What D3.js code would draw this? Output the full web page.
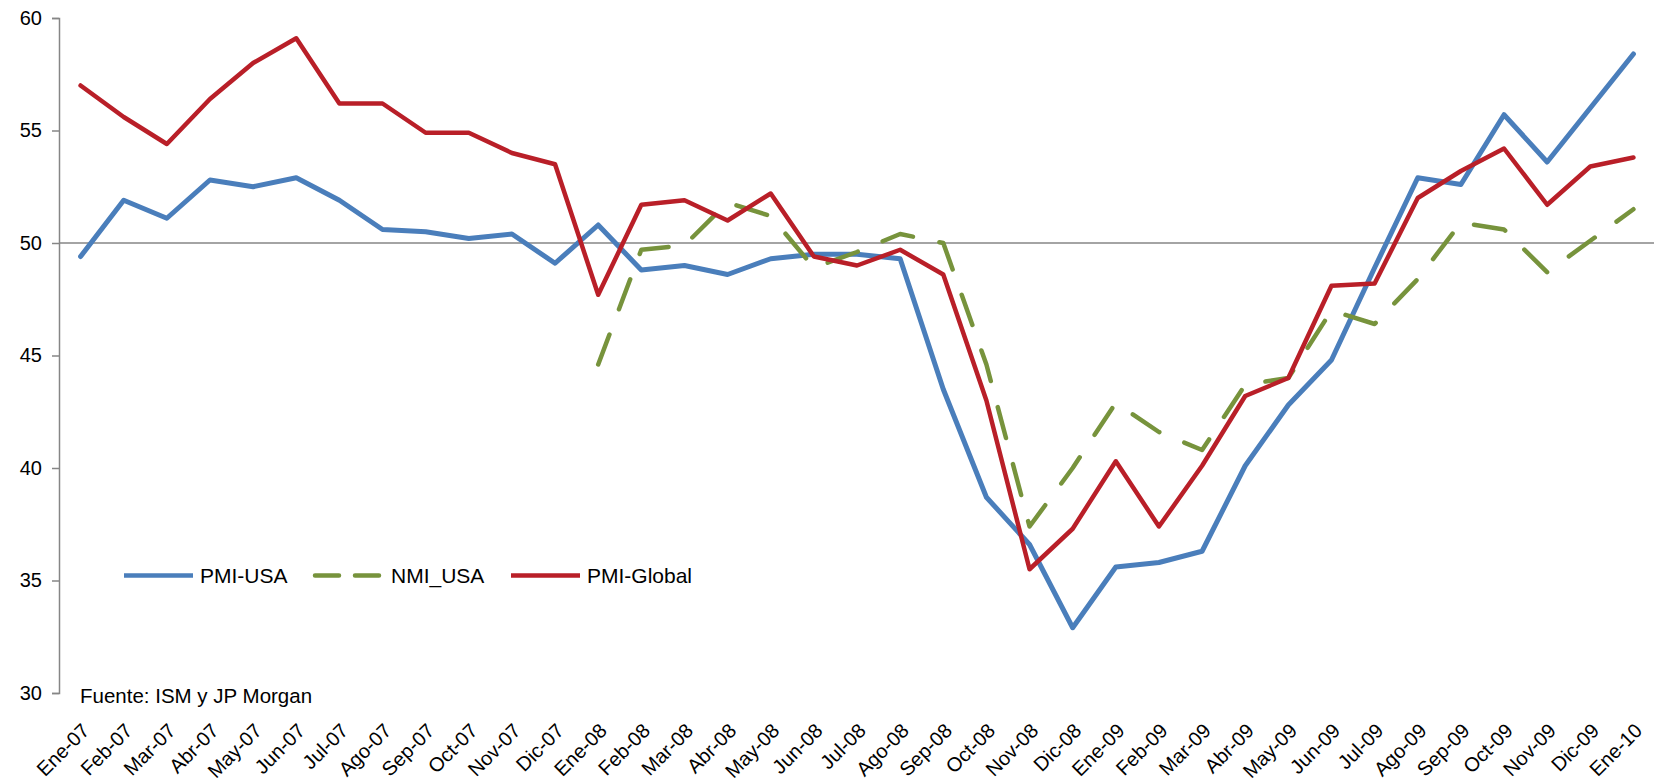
<!DOCTYPE html>
<html lang="es">
  <head>
    <meta charset="utf-8">
    <title>PMI / NMI</title>
    <style type="text/css">
      body{
        margin: 0;
        background-color: white;
      }
      svg{
        display: block;
        font-family: "Liberation Sans", Arial, sans-serif;
      }
    </style>
  </head>
  <body>
    <div id='chart'></div>

    <script src="https://d3js.org/d3.v7.min.js"></script>
    <script type="text/javascript">

      const months = ["Ene-07","Feb-07","Mar-07","Abr-07","May-07","Jun-07","Jul-07","Ago-07","Sep-07","Oct-07","Nov-07","Dic-07",
                      "Ene-08","Feb-08","Mar-08","Abr-08","May-08","Jun-08","Jul-08","Ago-08","Sep-08","Oct-08","Nov-08","Dic-08",
                      "Ene-09","Feb-09","Mar-09","Abr-09","May-09","Jun-09","Jul-09","Ago-09","Sep-09","Oct-09","Nov-09","Dic-09",
                      "Ene-10"];

      const pmiUSA = [49.4,51.9,51.1,52.8,52.5,52.9,51.9,50.6,50.5,50.2,50.4,49.1,
                      50.8,48.8,49.0,48.6,49.3,49.5,49.5,49.3,43.5,38.7,36.6,32.9,
                      35.6,35.8,36.3,40.1,42.8,44.8,48.9,52.9,52.6,55.7,53.6,56.0,
                      58.4];

      const nmiUSA = [null,null,null,null,null,null,null,null,null,null,null,null,
                      44.6,49.7,49.9,51.8,51.2,48.9,49.6,50.4,50.0,44.6,37.4,40.0,
                      42.9,41.6,40.8,43.7,44.0,47.0,46.4,48.4,50.9,50.6,48.7,50.1,
                      51.5];

      const pmiGlobal = [57.0,55.6,54.4,56.4,58.0,59.1,56.2,56.2,54.9,54.9,54.0,53.5,
                         47.7,51.7,51.9,51.0,52.2,49.4,49.0,49.7,48.6,43.0,35.5,37.3,
                         40.3,37.4,40.1,43.2,44.0,48.1,48.2,52.0,53.2,54.2,51.7,53.4,
                         53.8];

      const yTicks = [30,35,40,45,50,55,60];
      const seriesNames = ["PMI-USA","NMI_USA","PMI-Global"];
      const seriesColors = ["#4a7ebb","#77933c","#b91f28"];

      const w = 1654;
      const h = 782;

      // plot area
      const plotLeft = 59, plotRight = 1655, plotTop = 18, plotBottom = 693;

      const svg = d3.select('#chart').append('svg').attr('width', w).attr('height', h);

      const scaleX = d3.scalePoint().domain(months).range([plotLeft, plotRight]).padding(0.5);
      const scaleY = d3.scaleLinear().domain([30, 60]).range([plotBottom, plotTop]);

      // y axis
      const yAxis = d3.axisLeft(scaleY).tickValues(yTicks).tickSize(7).tickPadding(10).tickFormat(d3.format('d'));
      const gy = svg.append('g').attr('transform', 'translate(' + plotLeft + ',0)').call(yAxis);
      gy.select('.domain').attr('stroke', '#868686').attr('stroke-width', 1.5);
      gy.selectAll('.tick line').attr('stroke', '#868686').attr('stroke-width', 1.5);
      gy.selectAll('.tick text').style('font-size', '20px').style('fill', '#000')
        .attr('font-family', '"Liberation Sans", Arial, sans-serif');

      // category axis crosses at 50, labels sit at the bottom
      svg.append('line')
        .attr('x1', plotLeft).attr('x2', w)
        .attr('y1', scaleY(50)).attr('y2', scaleY(50))
        .attr('stroke', '#868686').attr('stroke-width', 1.5);

      svg.append('g').selectAll('text').data(months).enter().append('text')
        .text(d => d)
        .attr('text-anchor', 'end')
        .attr('transform', d => 'translate(' + (scaleX(d) + 10) + ',' + 732 + ') rotate(-45)')
        .style('font-size', '20px').style('fill', '#000');

      // lines
      const allSeries = [pmiUSA, nmiUSA, pmiGlobal];
      const line = d3.line()
        .defined(d => d != null)
        .x((d, i) => scaleX(months[i]))
        .y(d => scaleY(d));

      allSeries.forEach(function(s, k){
        const p = svg.append('path').datum(s)
          .attr('d', line)
          .attr('fill', 'none')
          .attr('stroke', seriesColors[k])
          .attr('stroke-width', k === 0 ? 5 : 4.5)
          .attr('stroke-linejoin', 'round')
          .attr('stroke-linecap', 'round');
        if (k === 1) p.attr('stroke-dasharray', '32,27');
      });

      // legend
      const legendY = 575.5;
      const legendX = [124, 315, 511];
      seriesNames.forEach(function(name, k){
        const l = svg.append('line')
          .attr('x1', legendX[k]).attr('x2', legendX[k] + 69)
          .attr('y1', legendY).attr('y2', legendY)
          .attr('stroke', seriesColors[k])
          .attr('stroke-width', 4.5)
          .attr('stroke-linecap', k === 1 ? 'round' : 'butt');
        if (k === 1) l.attr('stroke-dasharray', '24,16');
        svg.append('text').text(name)
          .attr('x', legendX[k] + 76).attr('y', legendY + 7.5)
          .style('font-size', '21px').style('fill', '#000');
      });

      // source
      svg.append('text').text('Fuente: ISM y JP Morgan')
        .attr('x', 80).attr('y', 703)
        .style('font-size', '20.5px').style('fill', '#000');
    </script>
  </body>
</html>
